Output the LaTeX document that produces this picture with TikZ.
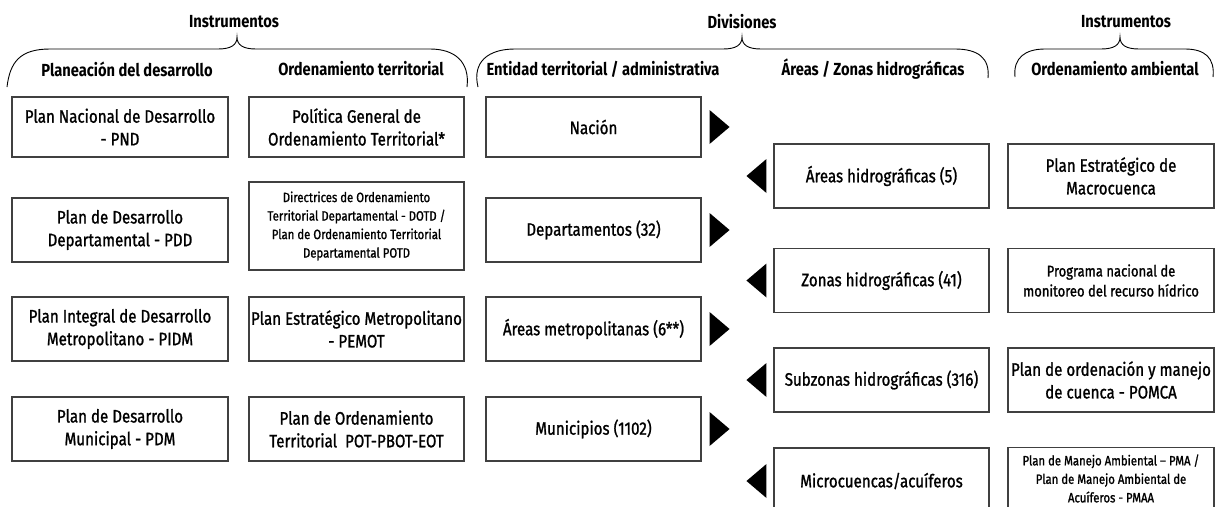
\documentclass[tikz,border=0pt]{standalone}
\usepackage{fontspec}
\setmainfont{Fira Sans}[FakeStretch=0.84]
\newfontfamily\bxfont{Fira Sans}[FakeStretch=0.84,FakeBold=1.2]
\usetikzlibrary{calc}
\tikzset{
  box/.style={draw=black!75, line width=1.1pt, minimum width=215, minimum height=64,
    align=center, inner sep=0pt, font=\bxfont\fontsize{18}{22.7}\selectfont},
  smallbox/.style={box, font=\bxfont\fontsize{13.5}{18.5}\selectfont},
  midbox/.style={box, font=\bxfont\fontsize{15.5}{20}\selectfont},
  head/.style={font=\bfseries\fontsize{17.5}{21}\selectfont, inner sep=0pt},
  brace/.style={draw=black, line width=0.9pt},
  tri/.style={fill=black}
}
\begin{document}
\begin{tikzpicture}[x=1pt,y=-1pt]
\useasboundingbox (0,0) rectangle (1218,506);
\clip (0,0) rectangle (1218,506);
% top labels
\node[head] (ins1) at (234,22) {Instrumentos};
\node[head] (div) at (742,22) {Divisiones};
\node[head] (ins2) at (1126,22) {Instrumentos};
% braces
\draw[brace] (7,87) .. controls (10,62) and (20,49) .. (50,49) -- (218,49)
  .. controls (231,49) and (237,45) .. (237,37)
  .. controls (237,45) and (243,49) .. (256,49) -- (430,49)
  .. controls (455,49) and (470,62) .. (467,87);
\draw[brace] (478,87) .. controls (472,62) and (488,49) .. (515,49) -- (723,49)
  .. controls (736,49) and (742,45) .. (742,37)
  .. controls (742,45) and (748,49) .. (761,49) -- (955,49)
  .. controls (978,49) and (990,58) .. (988,78);
\draw[brace] (1015,77) .. controls (1013,58) and (1025,49) .. (1045,49) -- (1101,49)
  .. controls (1114,49) and (1120,45) .. (1120,37)
  .. controls (1120,45) and (1126,49) .. (1139,49) -- (1185,49)
  .. controls (1205,49) and (1215,58) .. (1213,77);
% column headers
\node[head] (h1) at (127,69) {Planeación del desarrollo};
\node[head] (h2) at (361,69) {Ordenamiento territorial};
\node[head] (h3) at (603,69) {Entidad territorial / administrativa};
\node[head] (h4) at (873,69) {Áreas / Zonas hidrográficas};
\node[head] (h5) at (1115,69) {Ordenamiento ambiental};
% column 1
\node[box, minimum width=216, minimum height=60] (pnd) at (120,127) {Plan Nacional de Desarrollo\\- PND};
\node[box, minimum width=216] (pdd) at (120,230) {Plan de Desarrollo\\Departamental - PDD};
\node[box, minimum width=216] (pidm) at (120,329) {Plan Integral de Desarrollo\\Metropolitano - PIDM};
\node[box, minimum width=216] (pdm) at (120,429) {Plan de Desarrollo\\Municipal - PDM};
% column 2
\node[box, minimum height=60] (pgot) at (356.5,127) {Política General de\\Ordenamiento Territorial*};
\node[smallbox, minimum height=88] (dotd) at (356.5,226) {Directrices de Ordenamiento\\Territorial Departamental - DOTD /\\Plan de Ordenamiento Territorial\\Departamental POTD};
\node[box] (pemot) at (356.5,329) {Plan Estratégico Metropolitano\\- PEMOT};
\node[box] (pot) at (356.5,429) {Plan de Ordenamiento\\Territorial\ \ POT-PBOT-EOT};
% column 3
\node[box, minimum height=60] (nac) at (593.5,127) {Nación};
\node[box] (dep) at (593.5,230) {Departamentos (32)};
\node[box] (amet) at (593.5,329) {Áreas metropolitanas (6**)};
\node[box] (mun) at (593.5,429) {Municipios (1102)};
% column 4
\node[box] (ah) at (881.5,176) {Áreas hidrográficas (5)};
\node[box] (zh) at (881.5,280.5) {Zonas hidrográficas (41)};
\node[box] (szh) at (881.5,380) {Subzonas hidrográficas (316)};
\node[box, minimum height=66] (mic) at (881.5,481) {Microcuencas/acuíferos};
% column 5
\node[box, minimum width=206] (pem) at (1111,176) {Plan Estratégico de\\Macrocuenca};
\node[midbox, minimum width=206] (pnm) at (1111,280.5) {Programa nacional de\\monitoreo del recurso hídrico};
\node[box, minimum width=206] (pomca) at (1111,380) {Plan de ordenación y manejo\\de cuenca - POMCA};
\node[smallbox, minimum width=206, minimum height=62] (pma) at (1111,478.5) {Plan de Manejo Ambiental – PMA /\\Plan de Manejo Ambiental de\\Acuíferos - PMAA};
% right-pointing triangles
\foreach \n in {nac,dep,amet,mun}{
  \fill[tri] ($(\n.east)+(8,-17)$) -- ++(20,17) -- ++(-20,17) -- cycle;
}
% left-pointing triangles
\foreach \n in {ah,zh,szh,mic}{
  \fill[tri] ($(\n.west)+(-7,-17)$) -- ++(-20,17) -- ++(20,17) -- cycle;
}
\end{tikzpicture}
\end{document}
